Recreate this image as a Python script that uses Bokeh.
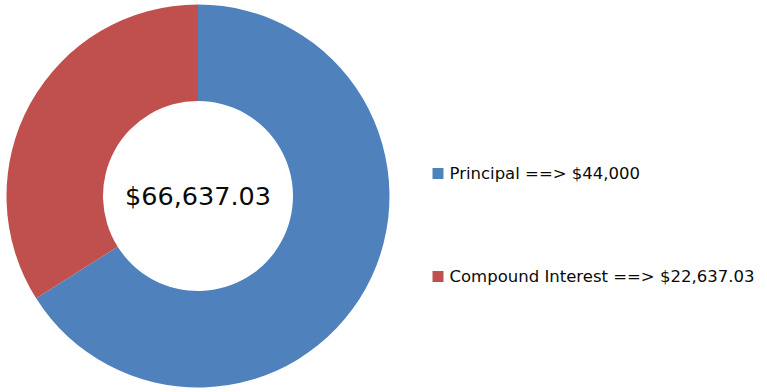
import math
from bokeh.plotting import figure
from bokeh.models import ColumnDataSource, Range1d
from bokeh.core.properties import value
from bokeh.embed import file_html
from bokeh.resources import INLINE

# Data
categories = ["Principal", "Compound Interest"]
amounts = [44000.0, 22637.03]
legend_labels = ["Principal ==> $44,000", "Compound Interest ==> $22,637.03"]
center_label = "$66,637.03"
colors = ["#4F81BD", "#C0504D"]

W, H = 767, 392
p = figure(width=W, height=H, output_backend="svg", toolbar_location=None,
           x_range=Range1d(0, W), y_range=Range1d(0, H), min_border=0)
p.axis.visible = False
p.grid.visible = False
p.outline_line_color = None
p.background_fill_color = "white"
p.border_fill_color = "white"

total = sum(amounts)
starts, ends = [], []
acc = 0.0
for a in amounts:
    starts.append(math.pi / 2 - 2 * math.pi * acc / total)
    acc += a
    ends.append(math.pi / 2 - 2 * math.pi * acc / total)

cx, cy = 197.5, H - 195.5
src = ColumnDataSource(dict(cat=categories, start=starts, end=ends, color=colors))
p.annular_wedge(x=cx, y=cy, inner_radius=95, outer_radius=191.5,
                start_angle="start", end_angle="end", direction="clock",
                fill_color="color", line_color=None, source=src)

p.text(x=[cx], y=[cy], text=[center_label], text_align="center",
       text_baseline="middle", text_font=value("DejaVu Sans"),
       text_font_size="25.5px", text_color="#0a0a0a")

# Legend
ly = [H - 173, H - 276]
p.rect(x=[437.5] * len(categories), y=ly, width=11, height=11,
       fill_color=colors, line_color=None)
p.text(x=[449] * len(categories), y=ly, text=legend_labels, text_align="left",
       text_baseline="middle", text_font=value("DejaVu Sans"),
       text_font_size="16.5px", text_color="#0a0a0a")

open("out.html", "w").write(file_html(p, INLINE))
